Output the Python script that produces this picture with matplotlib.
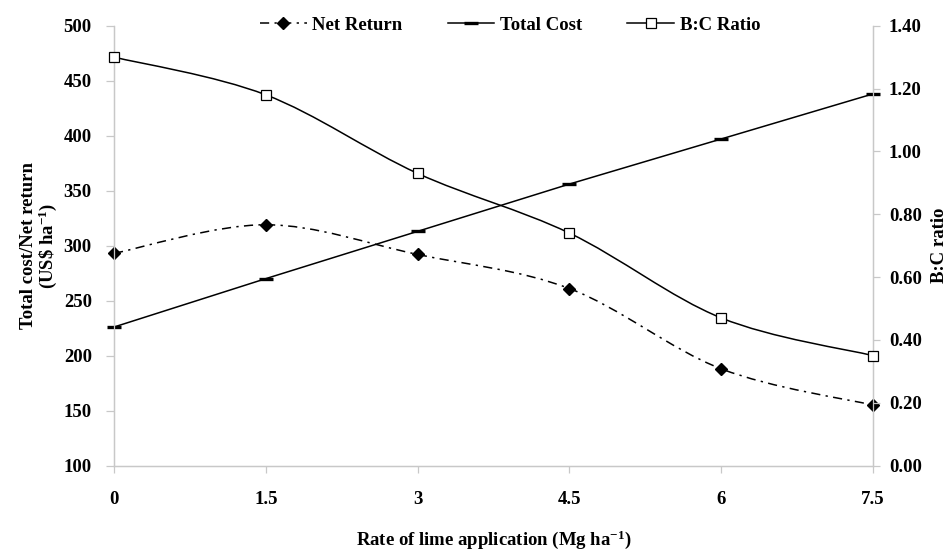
import matplotlib
matplotlib.use("Agg")
import matplotlib.pyplot as plt
from matplotlib.path import Path
from matplotlib.patches import PathPatch
from matplotlib.lines import Line2D
import numpy as np

# ---- data ----
lime_rate = [0, 1.5, 3, 4.5, 6, 7.5]
x_tick_labels = ["0", "1.5", "3", "4.5", "6", "7.5"]
net_return = [293, 319, 292, 261, 188, 155]
total_cost = [226, 270, 313, 356, 397, 438]
bc_ratio = [1.30, 1.18, 0.93, 0.74, 0.47, 0.35]

left_ticks = [100, 150, 200, 250, 300, 350, 400, 450, 500]
right_ticks = [0.0, 0.2, 0.4, 0.6, 0.8, 1.0, 1.2, 1.4]

plt.rcParams['font.family'] = ['Liberation Serif', 'DejaVu Serif']
plt.rcParams['font.weight'] = 'bold'
plt.rcParams['mathtext.fontset'] = 'custom'
plt.rcParams['mathtext.rm'] = 'Liberation Serif:bold'
plt.rcParams['mathtext.bf'] = 'Liberation Serif:bold'
plt.rcParams['mathtext.default'] = 'bf'

W, H = 951, 553
fig = plt.figure(figsize=(W / 100, H / 100), dpi=100)
ax = fig.add_axes([114 / W, 1 - 465.6 / H, (873 - 114) / W, (465.6 - 25.7) / H])
ax2 = ax.twinx()

spine_col = '#c8c8c8'
FS = 13.5


def smooth_path(xs, ys):
    """Catmull-Rom style Bezier through the data points (Excel-like smoothed line)."""
    pts = np.column_stack([xs, ys]).astype(float)
    n = len(pts)
    verts = [pts[0]]
    codes = [Path.MOVETO]
    for i in range(n - 1):
        p0 = pts[i - 1] if i > 0 else pts[i]
        p1 = pts[i]
        p2 = pts[i + 1]
        p3 = pts[i + 2] if i + 2 < n else pts[i + 1]
        c1 = p1 + (p2 - p0) / 6.0
        c2 = p2 - (p3 - p1) / 6.0
        verts += [c1, c2, p2]
        codes += [Path.CURVE4] * 3
    return Path(verts, codes)


lw = 1.1
dashdot = (0, (6, 3.5, 1.5, 3.5))

# Net return (smoothed dash-dot, filled diamonds)
ax.add_patch(PathPatch(smooth_path(lime_rate, net_return), fill=False,
                       edgecolor='black', lw=lw, linestyle=dashdot, zorder=2))
ax.plot(lime_rate, net_return, linestyle='none', marker='D', markersize=6.5,
        color='black', zorder=3, clip_on=False)

# Total cost (straight, bar markers)
ax.plot(lime_rate, total_cost, color='black', lw=lw, marker='_', markersize=10,
        markeredgewidth=2.4, zorder=3, clip_on=False)

# B:C ratio (smoothed solid, open squares)
ax2.add_patch(PathPatch(smooth_path(lime_rate, bc_ratio), fill=False,
                        edgecolor='black', lw=lw, zorder=2))
ax2.plot(lime_rate, bc_ratio, linestyle='none', marker='s', markersize=7.5,
         markerfacecolor='white', markeredgecolor='black', markeredgewidth=0.9,
         zorder=3, clip_on=False)

ax.set_xlim(0, 7.5)
ax.set_ylim(100, 500)
ax2.set_ylim(0, 1.4)

ax.set_xticks(lime_rate)
ax.set_xticklabels(x_tick_labels)
ax.set_yticks(left_ticks)
ax.set_yticklabels([str(t) for t in left_ticks])
ax2.set_yticks(right_ticks)
ax2.set_yticklabels([f"{t:.2f}" for t in right_ticks])

for a in (ax, ax2):
    for s in a.spines.values():
        s.set_color(spine_col)
        s.set_linewidth(0.9)
    a.spines['top'].set_visible(False)

ax.tick_params(axis='x', direction='out', length=5, width=0.9, color=spine_col,
               labelsize=FS, pad=13)
ax.tick_params(axis='y', direction='out', length=6, width=0.9, color=spine_col,
               labelsize=FS, pad=10)
ax2.tick_params(axis='y', direction='out', length=5, width=0.9, color=spine_col,
                labelsize=FS, pad=6.5)

for lab in ax.get_xticklabels() + ax.get_yticklabels() + ax2.get_yticklabels():
    lab.set_fontweight('bold')

ax.set_xlabel(r"Rate of lime application (Mg ha$^{\mathbf{-1}}$)", fontsize=FS,
              fontweight='bold')
ax.xaxis.set_label_coords(0.5, -0.142)
ax.set_ylabel("Total cost/Net return\n" + r"(US\$ ha$^{\mathbf{-1}}$)", fontsize=FS,
              fontweight='bold', linespacing=1.0)
ax.yaxis.set_label_coords(-0.072, 0.5)
ax2.set_ylabel("B:C ratio", fontsize=FS, fontweight='bold')
ax2.yaxis.set_label_coords(1.077, 0.5)

handles = [
    Line2D([], [], color='black', lw=lw, linestyle=dashdot, marker='D', markersize=6.5),
    Line2D([], [], color='black', lw=lw, marker='_', markersize=10, markeredgewidth=2.4),
    Line2D([], [], color='black', lw=lw, marker='s', markersize=7.5,
           markerfacecolor='white', markeredgecolor='black', markeredgewidth=0.9),
]
labels = ["Net Return", "Total Cost", "B:C Ratio"]
fig.legend(handles, labels, loc='center', bbox_to_anchor=(510 / W, 1 - 25 / H),
           ncol=3, frameon=False, handlelength=2.5,
           columnspacing=2.4, handletextpad=0.3, prop={'weight': 'bold', 'size': FS})

fig.savefig("out.png", dpi=100)
